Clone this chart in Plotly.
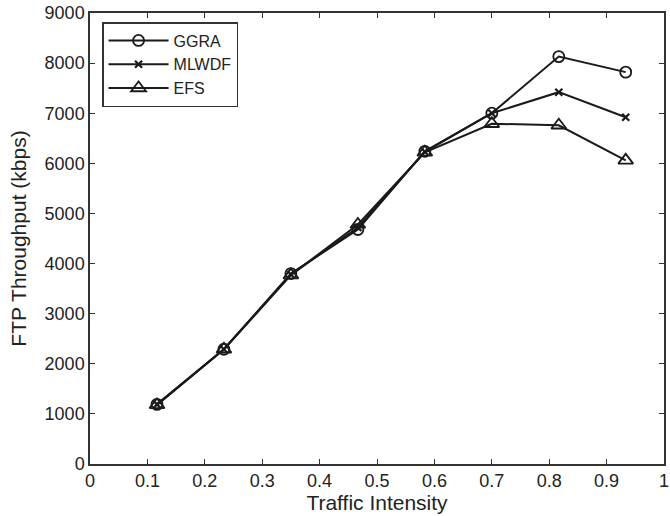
import plotly.graph_objects as go

traffic = [0.1167, 0.2333, 0.35, 0.4667, 0.5833, 0.7, 0.8167, 0.9333]
ggra = [1190, 2290, 3800, 4680, 6240, 7000, 8130, 7820]
mlwdf = [1190, 2290, 3780, 4720, 6230, 7000, 7420, 6920]
efs = [1180, 2290, 3770, 4780, 6220, 6790, 6760, 6060]

x_ticks = [0, 0.1, 0.2, 0.3, 0.4, 0.5, 0.6, 0.7, 0.8, 0.9, 1]
x_labels = ["0", "0.1", "0.2", "0.3", "0.4", "0.5", "0.6", "0.7", "0.8", "0.9", "1"]
y_ticks = [0, 1000, 2000, 3000, 4000, 5000, 6000, 7000, 8000, 9000]

FONT = "Liberation Sans, Arial, Helvetica"
INK = "#1a1a1a"

fig = go.Figure()
fig.add_trace(go.Scatter(x=traffic, y=ggra, name="GGRA", mode="lines+markers",
                         line=dict(color=INK, width=2),
                         marker=dict(symbol="circle-open", size=11, color=INK, line=dict(width=1.8))))
fig.add_trace(go.Scatter(x=traffic, y=mlwdf, name="MLWDF", mode="lines+markers",
                         line=dict(color=INK, width=2),
                         marker=dict(symbol="x-thin-open", size=7, color=INK, line=dict(width=2.2))))
fig.add_trace(go.Scatter(x=traffic, y=efs, name="EFS", mode="lines+markers",
                         line=dict(color=INK, width=2),
                         marker=dict(symbol="triangle-up-open", size=13, color=INK, line=dict(width=1.8))))

axis_common = dict(showgrid=False, zeroline=False, showline=True, linecolor="#333333", linewidth=1.5,
                   mirror="ticks", ticks="inside", ticklen=5, tickcolor="#333333", automargin=False,
                   tickfont=dict(family=FONT, size=18, color="#222222"))

fig.update_xaxes(range=[0, 1], tickvals=x_ticks, ticktext=x_labels,
                 title=dict(text="Traffic Intensity", font=dict(family=FONT, size=21, color="#222222"),
                            standoff=0), **axis_common)
fig.update_yaxes(range=[0, 9000], tickvals=y_ticks,
                 title=dict(text="FTP Throughput (kbps)", font=dict(family=FONT, size=21, color="#222222"),
                            standoff=12), **axis_common)

fig.update_layout(
    width=670, height=516,
    margin=dict(l=90, r=6, t=13, b=52),
    plot_bgcolor="white", paper_bgcolor="white",
    legend=dict(x=0.021, y=0.98, xanchor="left", yanchor="top",
                bgcolor="white", bordercolor="#333333", borderwidth=1.5,
                font=dict(family=FONT, size=16, color="#222222"),
                itemwidth=60),
    showlegend=True,
)

fig.write_html("out.html", config={"displayModeBar": False},
               post_script="document.body.style.margin='0';document.body.style.overflow='hidden';")
